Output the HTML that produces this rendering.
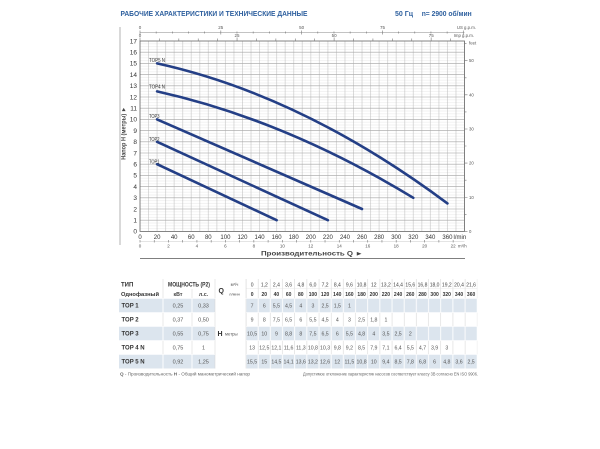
<!DOCTYPE html>
<html><head><meta charset="utf-8"><style>
html,body{margin:0;padding:0;background:#fff;}
svg{display:block;}
text{font-family:"Liberation Sans","DejaVu Sans",sans-serif;}
</style></head><body>
<svg width="600" height="449" viewBox="0 0 600 449" xmlns="http://www.w3.org/2000/svg">
<defs>
<pattern id="g" patternUnits="userSpaceOnUse" x="135.73" y="39.6" width="8.54" height="2.8">
<line x1="0" y1="1.4" x2="8.54" y2="1.4" stroke="#dedede" stroke-width="0.4"/>
<line x1="4.27" y1="0" x2="4.27" y2="2.8" stroke="#b8b8b8" stroke-width="0.5"/>
</pattern>
<pattern id="pw" patternUnits="userSpaceOnUse" x="240" y="0" width="12.17" height="10">
<line x1="6" y1="0" x2="6" y2="10" stroke="#d2d2d2" stroke-width="0.5"/>
</pattern>
<pattern id="pb" patternUnits="userSpaceOnUse" x="240" y="0" width="12.17" height="10">
<rect x="0" y="0" width="12.17" height="10" fill="#dce5ee"/>
<line x1="6" y1="0" x2="6" y2="10" stroke="#ffffff" stroke-width="0.9"/>
</pattern>
</defs>

<!-- Title -->
<text x="120.5" y="16" font-size="7.5" font-weight="bold" fill="#2d5f9e" textLength="187" lengthAdjust="spacingAndGlyphs">РАБОЧИЕ ХАРАКТЕРИСТИКИ И ТЕХНИЧЕСКИЕ ДАННЫЕ</text>
<text x="395" y="16" font-size="7.5" font-weight="bold" fill="#2d5f9e" textLength="18" lengthAdjust="spacingAndGlyphs">50 Гц</text>
<text x="421.7" y="16" font-size="7.5" font-weight="bold" fill="#2d5f9e" textLength="50" lengthAdjust="spacingAndGlyphs">n= 2900 об/мин</text>

<!-- left frame line -->
<line x1="120" y1="27" x2="120" y2="245" stroke="#a0a0a0" stroke-width="0.8"/>

<!-- Plot grid -->
<rect x="140" y="41" width="324.5" height="190.4" fill="url(#g)"/>
<path d="M140 220.2H464.5M140 209H464.5M140 197.8H464.5M140 186.6H464.5M140 175.4H464.5M140 164.2H464.5M140 153H464.5M140 141.8H464.5M140 130.6H464.5M140 119.4H464.5M140 108.2H464.5M140 97H464.5M140 85.8H464.5M140 74.6H464.5M140 63.4H464.5M140 52.2H464.5" stroke="#a8a8a8" stroke-width="0.6" fill="none"/>
<rect x="140" y="41" width="324.5" height="190.4" fill="none" stroke="#666" stroke-width="0.8"/>

<!-- US gpm axis -->
<line x1="140" y1="32.5" x2="464.5" y2="32.5" stroke="#888" stroke-width="0.6"/>
<path d="M140 30.5v4M156.16 31.5v2M172.33 31.5v2M188.49 31.5v2M204.66 31.5v2M220.82 30.5v4M236.98 31.5v2M253.15 31.5v2M269.31 31.5v2M285.48 31.5v2M301.64 30.5v4M317.8 31.5v2M333.97 31.5v2M350.13 31.5v2M366.3 31.5v2M382.46 30.5v4M398.62 31.5v2M414.79 31.5v2M430.95 31.5v2M447.12 31.5v2M463.28 30.5v4" stroke="#777" stroke-width="0.6"/>
<g font-size="4.5" fill="#555" text-anchor="middle">
<text x="140" y="29">0</text><text x="220.8" y="29">25</text><text x="301.6" y="29">50</text><text x="382.5" y="29">75</text>
</g>
<text x="476" y="29" font-size="4.3" fill="#555" text-anchor="end">US g.p.m.</text>

<!-- Imp gpm ticks on top frame -->
<path d="M140 37.5v3.5M159.41 38.5v2.5M178.82 38.5v2.5M198.23 38.5v2.5M217.64 38.5v2.5M237.05 37.5v3.5M256.46 38.5v2.5M275.87 38.5v2.5M295.28 38.5v2.5M314.69 38.5v2.5M334.1 37.5v3.5M353.51 38.5v2.5M372.92 38.5v2.5M392.33 38.5v2.5M411.74 38.5v2.5M431.15 37.5v3.5M450.56 38.5v2.5" stroke="#777" stroke-width="0.6"/>
<g font-size="4.5" fill="#555" text-anchor="middle">
<text x="140" y="37">0</text><text x="237" y="37">25</text><text x="334.1" y="37">50</text><text x="431.2" y="37">75</text>
</g>
<text x="474" y="37" font-size="4.3" fill="#555" text-anchor="end">Imp g.p.m.</text>

<!-- feet axis -->
<path d="M464.5 231.4h3M464.5 214.3h2M464.5 197.26h3M464.5 180.2h2M464.5 163.1h3M464.5 146h2M464.5 129h3M464.5 111.9h2M464.5 94.8h3M464.5 77.8h2M464.5 60.7h3M464.5 43.6h2" stroke="#777" stroke-width="0.6"/>
<g font-size="4.3" fill="#555">
<text x="469" y="232.9">0</text><text x="469" y="198.8">10</text><text x="469" y="164.6">20</text><text x="469" y="130.5">30</text><text x="469" y="96.3">40</text><text x="469" y="62.2">50</text>
<text x="469" y="44.5">feet</text>
</g>

<!-- Y labels -->
<g font-size="6.5" fill="#333" text-anchor="end">
<text x="137" y="233.7">0</text><text x="137" y="222.5">1</text><text x="137" y="211.3">2</text><text x="137" y="200.1">3</text><text x="137" y="188.9">4</text><text x="137" y="177.7">5</text><text x="137" y="166.5">6</text><text x="137" y="155.3">7</text><text x="137" y="144.1">8</text><text x="137" y="132.9">9</text><text x="137" y="121.7">10</text><text x="137" y="110.5">11</text><text x="137" y="99.3">12</text><text x="137" y="88.1">13</text><text x="137" y="76.9">14</text><text x="137" y="65.7">15</text><text x="137" y="54.5">16</text><text x="137" y="43.3">17</text>
</g>
<text transform="translate(125.6,133.3) rotate(-90)" font-size="6.3" font-weight="bold" fill="#444" text-anchor="middle" textLength="53" lengthAdjust="spacingAndGlyphs">Напор H (метры) ►</text>

<!-- X labels l/min -->
<g font-size="6" fill="#333" text-anchor="middle">
<text x="140" y="239">0</text><text x="157.08" y="239">20</text><text x="174.16" y="239">40</text><text x="191.24" y="239">60</text><text x="208.32" y="239">80</text><text x="225.4" y="239">100</text><text x="242.48" y="239">120</text><text x="259.56" y="239">140</text><text x="276.64" y="239">160</text><text x="293.72" y="239">180</text><text x="310.8" y="239">200</text><text x="327.88" y="239">220</text><text x="344.96" y="239">240</text><text x="362.04" y="239">260</text><text x="379.12" y="239">280</text><text x="396.2" y="239">300</text><text x="413.28" y="239">320</text><text x="430.36" y="239">340</text><text x="447.44" y="239">360</text>
</g>
<text x="453.5" y="239" font-size="6" fill="#333">l/min</text>

<!-- m3/h axis -->
<line x1="140" y1="241.3" x2="464.5" y2="241.3" stroke="#bbb" stroke-width="0.4"/>
<path d="M140 240v2.5M154.23 240v2.5M168.47 240v2.5M182.7 240v2.5M196.93 240v2.5M211.17 240v2.5M225.4 240v2.5M239.63 240v2.5M253.86 240v2.5M268.1 240v2.5M282.33 240v2.5M296.56 240v2.5M310.8 240v2.5M325.03 240v2.5M339.26 240v2.5M353.5 240v2.5M367.73 240v2.5M381.96 240v2.5M396.19 240v2.5M410.43 240v2.5M424.66 240v2.5M438.89 240v2.5M453.13 240v2.5" stroke="#777" stroke-width="0.6"/>
<g font-size="4.5" fill="#555" text-anchor="middle">
<text x="140" y="247.5">0</text><text x="168.47" y="247.5">2</text><text x="196.93" y="247.5">4</text><text x="225.4" y="247.5">6</text><text x="253.86" y="247.5">8</text><text x="282.33" y="247.5">10</text><text x="310.8" y="247.5">12</text><text x="339.26" y="247.5">14</text><text x="367.73" y="247.5">16</text><text x="396.19" y="247.5">18</text><text x="424.66" y="247.5">20</text><text x="453.13" y="247.5">22</text>
</g>
<text x="458" y="247.5" font-size="4.3" fill="#555">m³/h</text>

<text x="261" y="255.5" font-size="6.3" font-weight="bold" fill="#444" textLength="102" lengthAdjust="spacingAndGlyphs">Производительность Q ►</text>
<line x1="140" y1="258.5" x2="465" y2="258.5" stroke="#555" stroke-width="0.8"/>

<!-- Curves -->
<g stroke="#243f86" stroke-width="2.6" fill="none" stroke-linecap="round">
<path d="M157.08 164.2L276.64 220.2"/>
<path d="M157.08 141.8L327.88 220.2"/>
<path d="M157.08 119.4L362.04 209"/>
<path d="M157.08 91.4Q285.18 119.96 413.28 197.8"/>
<path d="M157.08 63.4Q302.26 95.4 447.44 203.4"/>
</g>
<g font-size="5" fill="#333">
<text x="149" y="62" textLength="16" lengthAdjust="spacingAndGlyphs">TOP5 N</text>
<text x="149" y="88.5" textLength="16" lengthAdjust="spacingAndGlyphs">TOP4 N</text>
<text x="149" y="118" textLength="10.5" lengthAdjust="spacingAndGlyphs">TOP3</text>
<text x="149" y="141" textLength="10.5" lengthAdjust="spacingAndGlyphs">TOP2</text>
<text x="149" y="163.5" textLength="10.5" lengthAdjust="spacingAndGlyphs">TOP1</text>
</g>

<!-- ============ TABLE ============ -->
<!-- numeric region patterns -->
<rect x="246" y="279" width="231.23" height="19.5" fill="url(#pw)"/>
<rect x="246" y="298.5" width="231.23" height="14" fill="url(#pb)"/>
<rect x="246" y="312.5" width="231.23" height="14" fill="url(#pw)"/>
<rect x="246" y="326.5" width="231.23" height="14" fill="url(#pb)"/>
<rect x="246" y="340.5" width="231.23" height="14" fill="url(#pw)"/>
<rect x="246" y="354.5" width="231.23" height="14" fill="url(#pb)"/>
<line x1="246" y1="288.7" x2="477.2" y2="288.7" stroke="#e2e2e2" stroke-width="0.4"/>
<!-- left part bg rows -->
<rect x="119" y="298.5" width="96" height="14" fill="#dce5ee"/>
<rect x="119" y="326.5" width="96" height="14" fill="#dce5ee"/>
<rect x="119" y="354.5" width="96" height="14" fill="#dce5ee"/>
<!-- separators -->
<path d="M163 279V298.5M192 289V298.5M215 279V368.5M246 279V368.5M163 312.5V326.5M192 312.5V326.5M163 340.5V354.5M192 340.5V354.5" stroke="#d2d2d2" stroke-width="0.5"/>
<path d="M163 298.5V312.5M192 298.5V312.5M163 326.5V340.5M192 326.5V340.5M163 354.5V368.5M192 354.5V368.5" stroke="#fff" stroke-width="0.9"/>
<path d="M119 298.5H477.2M119 312.5H215M246 312.5H477.2M119 326.5H215M246 326.5H477.2M119 340.5H215M246 340.5H477.2M119 354.5H215M246 354.5H477.2" stroke="#fff" stroke-width="0.6"/>

<!-- header text -->
<text x="121" y="286.5" font-size="6" font-weight="bold" fill="#333">ТИП</text>
<text x="121" y="296" font-size="5.8" font-weight="bold" fill="#333" textLength="38" lengthAdjust="spacingAndGlyphs">Однофазный</text>
<text x="189" y="286.5" font-size="6" font-weight="bold" fill="#333" text-anchor="middle" textLength="42" lengthAdjust="spacingAndGlyphs">МОЩНОСТЬ (P2)</text>
<text x="178" y="296" font-size="5.3" font-weight="bold" fill="#444" text-anchor="middle">кВт</text>
<text x="203.5" y="296" font-size="5.3" font-weight="bold" fill="#444" text-anchor="middle">л.с.</text>
<text x="218.5" y="293" font-size="7" font-weight="bold" fill="#333">Q</text>
<text x="234.5" y="286" font-size="4.3" fill="#555" text-anchor="middle">м³/ч</text>
<text x="234.5" y="295.5" font-size="4" fill="#555" text-anchor="middle">л/мин</text>
<text x="217.5" y="336" font-size="7" font-weight="bold" fill="#333">H</text>
<text x="225" y="335.5" font-size="4.3" fill="#555">метры</text>

<g font-size="5" fill="#444" text-anchor="middle">
<text x="252.1" y="286.5">0</text><text x="264.3" y="286.5">1,2</text><text x="276.4" y="286.5">2,4</text><text x="288.6" y="286.5">3,6</text><text x="300.8" y="286.5">4,8</text><text x="312.9" y="286.5">6,0</text><text x="325.1" y="286.5">7,2</text><text x="337.3" y="286.5">8,4</text><text x="349.4" y="286.5">9,6</text><text x="361.6" y="286.5">10,8</text><text x="373.8" y="286.5">12</text><text x="385.9" y="286.5">13,2</text><text x="398.1" y="286.5">14,4</text><text x="410.3" y="286.5">15,6</text><text x="422.5" y="286.5">16,8</text><text x="434.6" y="286.5">18,0</text><text x="446.8" y="286.5">19,2</text><text x="459" y="286.5">20,4</text><text x="471.1" y="286.5">21,6</text>
</g>
<g font-size="5" font-weight="bold" fill="#333" text-anchor="middle">
<text x="252.1" y="296">0</text><text x="264.3" y="296">20</text><text x="276.4" y="296">40</text><text x="288.6" y="296">60</text><text x="300.8" y="296">80</text><text x="312.9" y="296">100</text><text x="325.1" y="296">120</text><text x="337.3" y="296">140</text><text x="349.4" y="296">160</text><text x="361.6" y="296">180</text><text x="373.8" y="296">200</text><text x="385.9" y="296">220</text><text x="398.1" y="296">240</text><text x="410.3" y="296">260</text><text x="422.5" y="296">280</text><text x="434.6" y="296">300</text><text x="446.8" y="296">320</text><text x="459" y="296">340</text><text x="471.1" y="296">360</text>
</g>

<!-- row names -->
<g font-size="6" font-weight="bold" fill="#333">
<text x="121.5" y="307.5">TOP 1</text>
<text x="121.5" y="321.5">TOP 2</text>
<text x="121.5" y="335.5">TOP 3</text>
<text x="121.5" y="349.5">TOP 4 N</text>
<text x="121.5" y="363.5">TOP 5 N</text>
</g>
<g font-size="5.5" fill="#555" text-anchor="middle">
<text x="178" y="307.5">0,25</text><text x="203.5" y="307.5">0,33</text>
<text x="178" y="321.5">0,37</text><text x="203.5" y="321.5">0,50</text>
<text x="178" y="335.5">0,55</text><text x="203.5" y="335.5">0,75</text>
<text x="178" y="349.5">0,75</text><text x="203.5" y="349.5">1</text>
<text x="178" y="363.5">0,92</text><text x="203.5" y="363.5">1,25</text>
</g>

<g font-size="5.2" fill="#555" text-anchor="middle">
<!-- TOP1 -->
<text x="252.1" y="307.5">7</text><text x="264.3" y="307.5">6</text><text x="276.4" y="307.5">5,5</text><text x="288.6" y="307.5">4,5</text><text x="300.8" y="307.5">4</text><text x="312.9" y="307.5">3</text><text x="325.1" y="307.5">2,5</text><text x="337.3" y="307.5">1,5</text><text x="349.4" y="307.5">1</text>
<!-- TOP2 -->
<text x="252.1" y="321.5">9</text><text x="264.3" y="321.5">8</text><text x="276.4" y="321.5">7,5</text><text x="288.6" y="321.5">6,5</text><text x="300.8" y="321.5">6</text><text x="312.9" y="321.5">5,5</text><text x="325.1" y="321.5">4,5</text><text x="337.3" y="321.5">4</text><text x="349.4" y="321.5">3</text><text x="361.6" y="321.5">2,5</text><text x="373.8" y="321.5">1,8</text><text x="385.9" y="321.5">1</text>
<!-- TOP3 -->
<text x="252.1" y="335.5">10,5</text><text x="264.3" y="335.5">10</text><text x="276.4" y="335.5">9</text><text x="288.6" y="335.5">8,8</text><text x="300.8" y="335.5">8</text><text x="312.9" y="335.5">7,5</text><text x="325.1" y="335.5">6,5</text><text x="337.3" y="335.5">6</text><text x="349.4" y="335.5">5,5</text><text x="361.6" y="335.5">4,8</text><text x="373.8" y="335.5">4</text><text x="385.9" y="335.5">3,5</text><text x="398.1" y="335.5">2,5</text><text x="410.3" y="335.5">2</text>
<!-- TOP4N -->
<text x="252.1" y="349.5">13</text><text x="264.3" y="349.5">12,5</text><text x="276.4" y="349.5">12,1</text><text x="288.6" y="349.5">11,6</text><text x="300.8" y="349.5">11,3</text><text x="312.9" y="349.5">10,8</text><text x="325.1" y="349.5">10,3</text><text x="337.3" y="349.5">9,8</text><text x="349.4" y="349.5">9,2</text><text x="361.6" y="349.5">8,5</text><text x="373.8" y="349.5">7,9</text><text x="385.9" y="349.5">7,1</text><text x="398.1" y="349.5">6,4</text><text x="410.3" y="349.5">5,5</text><text x="422.5" y="349.5">4,7</text><text x="434.6" y="349.5">3,9</text><text x="446.8" y="349.5">3</text>
<!-- TOP5N -->
<text x="252.1" y="363.5">15,5</text><text x="264.3" y="363.5">15</text><text x="276.4" y="363.5">14,5</text><text x="288.6" y="363.5">14,1</text><text x="300.8" y="363.5">13,6</text><text x="312.9" y="363.5">13,2</text><text x="325.1" y="363.5">12,6</text><text x="337.3" y="363.5">12</text><text x="349.4" y="363.5">11,5</text><text x="361.6" y="363.5">10,8</text><text x="373.8" y="363.5">10</text><text x="385.9" y="363.5">9,4</text><text x="398.1" y="363.5">8,5</text><text x="410.3" y="363.5">7,8</text><text x="422.5" y="363.5">6,8</text><text x="434.6" y="363.5">6</text><text x="446.8" y="363.5">4,8</text><text x="459" y="363.5">3,6</text><text x="471.1" y="363.5">2,5</text>
</g>

<!-- footer -->
<text x="120" y="375.5" font-size="4.3" fill="#666" textLength="130" lengthAdjust="spacingAndGlyphs"><tspan font-weight="bold">Q</tspan> - Производительность   <tspan font-weight="bold">H</tspan> - Общий манометрический напор</text>
<text x="303" y="375.5" font-size="4.3" fill="#666" textLength="175" lengthAdjust="spacingAndGlyphs">Допустимое отклонение характеристик насосов соответствует классу 3B согласно EN ISO 9906.</text>
</svg>
</body></html>
